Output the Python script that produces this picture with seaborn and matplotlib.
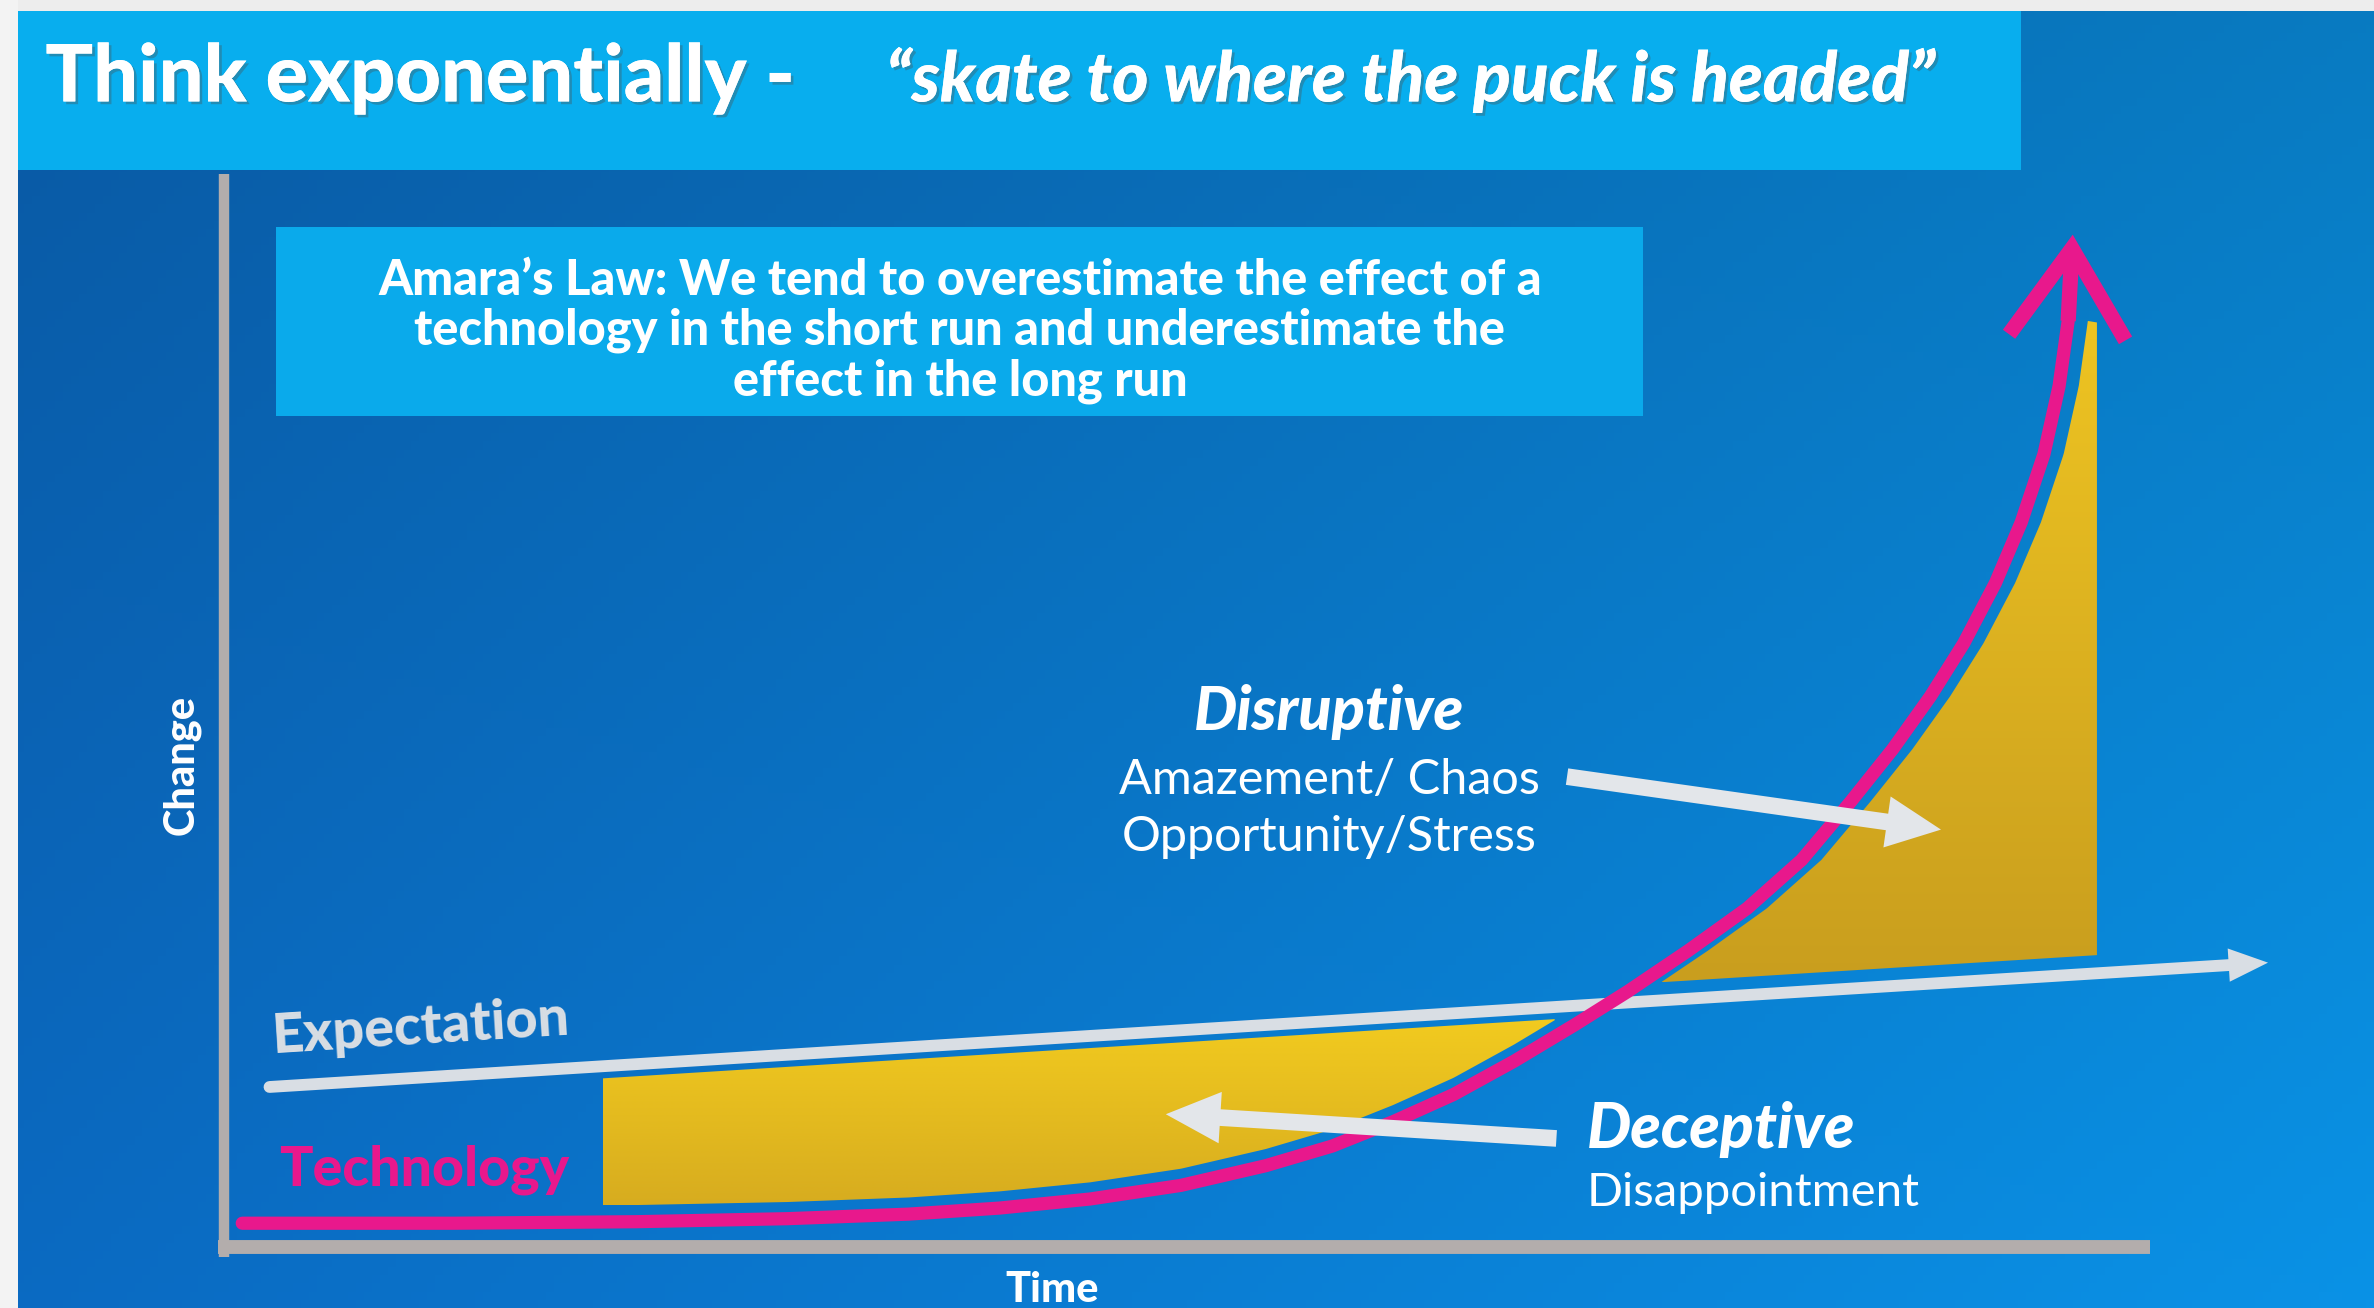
import numpy as np
import matplotlib.pyplot as plt
import seaborn as sns
from matplotlib.patches import Polygon, Rectangle, FancyArrow, FancyArrowPatch
import matplotlib.patheffects as pe

# slide laid out on a 1568 x 864 grid: x = time, y = change (origin bottom left)
W, H = 1568, 864

# technology curve (exponential)
tech_time = [160, 300, 420, 520, 600, 660, 720, 780, 836, 880, 920, 960,
             1000, 1040, 1075, 1115, 1154, 1190, 1222, 1250, 1275, 1297,
             1318, 1335, 1350, 1360, 1366]
tech_change = [56, 56, 57, 59, 62, 66, 72, 81, 94, 107, 123, 141,
               163, 187, 209, 236, 264, 296, 334, 369, 404, 439,
               479, 519, 564, 609, 652]
tech_tip = (1369, 709)

# expectation (linear)
exp_time = [178, 1480]
exp_change = [146, 227]

MAGENTA = "#E8188C"
GREY = "#D9DEE4"
AXIS_GREY = "#B3ADAC"
WHITE = "#FFFFFF"

sns.set_theme(style="white")
plt.rcParams["font.family"] = ["Lato", "DejaVu Sans"]

fig = plt.figure(figsize=(23.74, 13.08), dpi=100)
ax = fig.add_axes([0, 0, 1, 1])


def hexrgb(h):
    h = h.lstrip("#")
    return np.array([int(h[i:i + 2], 16) for i in (0, 2, 4)]) / 255.0


# background: blue, lighter to the right, a bit darker at the top
gx = np.linspace(0, 1, 300)[None, :, None]
gy = np.linspace(0, 1, 160)[:, None, None]
c_left, c_right = hexrgb("#0B6AC2"), hexrgb("#0A92E6")
bg = (1 - gx) * c_left + gx * c_right
bg = bg * (1 - 0.16 * gy)
ax.imshow(bg, extent=[0, W, 0, H], origin="lower", aspect="auto", zorder=0)

# page border strips and title band
ax.add_patch(Rectangle((0, H - 7), W, 7, color="#EDEDED", zorder=1, lw=0))
ax.add_patch(Rectangle((0, 0), 12, H, color="#F3F3F3", zorder=1, lw=0))
ax.add_patch(Rectangle((12, 752), 1323, 105, color="#08AEEE", zorder=1, lw=0))


def gradient_fill(verts, c_top, c_bot, z):
    poly = Polygon(verts, closed=True, fc="none", ec="none")
    ax.add_patch(poly)
    x0, x1 = verts[:, 0].min(), verts[:, 0].max()
    y0, y1 = verts[:, 1].min(), verts[:, 1].max()
    t = np.linspace(0, 1, 256)[:, None]
    rgb = (1 - t) * hexrgb(c_bot) + t * hexrgb(c_top)
    img = np.repeat(rgb[:, None, :], 2, axis=1)
    im = ax.imshow(img, extent=[x0, x1, y0, y1], origin="lower",
                   aspect="auto", zorder=z, interpolation="bilinear")
    im.set_clip_path(poly)


# deceptive gap: expectation above technology
xs = np.linspace(398, 1100, 500)
top = np.interp(xs, exp_time, exp_change) - 8
bot = np.interp(xs, tech_time, tech_change) + 11
keep = top > bot
xs, top, bot = xs[keep], top[keep], bot[keep]
verts1 = np.r_[np.c_[xs, top], np.c_[xs[::-1], bot[::-1]]]
gradient_fill(verts1, "#F2CB1F", "#D7AC1F", 2)

# disruptive gap: technology above expectation
shifted = np.array(tech_time) + 13
xs2 = np.linspace(1050, 1379, 500)
top2 = np.interp(xs2, shifted, tech_change)
bot2 = np.interp(xs2, exp_time, exp_change) + 12
keep = top2 > bot2
xs2, top2, bot2 = xs2[keep], top2[keep], bot2[keep]
right_bot = np.interp(1385, exp_time, exp_change) + 12
verts2 = np.r_[np.c_[xs2, bot2], [[1385, right_bot], [1385, 651]],
               np.c_[xs2[::-1], top2[::-1]]]
gradient_fill(verts2, "#EEC422", "#C99E1E", 2)

# axes of the sketch
ax.plot([148, 148], [34, 749], color=AXIS_GREY, lw=7.5, zorder=3,
        solid_capstyle="butt")
ax.plot([144, 1420], [40, 40], color=AXIS_GREY, lw=10, zorder=3,
        solid_capstyle="butt")

# expectation line with arrow
sns.lineplot(x=exp_time, y=exp_change, ax=ax, color=GREY, lw=8.5,
             sort=False, estimator=None, zorder=4)
slope = (exp_change[1] - exp_change[0]) / (exp_time[1] - exp_time[0])
ax.add_patch(FancyArrow(exp_time[1] - 8, exp_change[1] - 8 * slope, 26, 26 * slope,
                        width=0, head_width=22, head_length=26,
                        length_includes_head=True, color=GREY, lw=0, zorder=4))

# technology curve with open arrow head
sns.lineplot(x=tech_time, y=tech_change, ax=ax, color=MAGENTA, lw=9.5,
             sort=False, estimator=None, zorder=5)
ax.add_patch(FancyArrowPatch((tech_time[-1], tech_change[-1]), tech_tip,
                             arrowstyle="->,head_length=64,head_width=42",
                             mutation_scale=1, shrinkA=0, shrinkB=0,
                             color=MAGENTA, lw=11, joinstyle="miter",
                             capstyle="butt", zorder=5))

# pointer arrows
ax.add_patch(FancyArrow(1035, 351, 247, -35, width=11, head_width=34,
                        head_length=36, length_includes_head=True,
                        color="#E3E6EA", lw=0, zorder=6))
ax.add_patch(FancyArrow(1028, 112, -258, 16, width=11, head_width=34,
                        head_length=36, length_includes_head=True,
                        color="#E3E6EA", lw=0, zorder=6))

shadow = [pe.withSimplePatchShadow(offset=(2, -2), alpha=0.35), pe.Normal()]

# title
ax.text(30, 797, "Think exponentially - ", fontsize=57, fontweight="black",
        color=WHITE, va="baseline", ha="left", zorder=7, path_effects=shadow)
ax.text(585, 797, "\u201cskate to where the puck is headed\u201d", fontsize=50,
        fontweight="black", style="italic", color=WHITE, va="baseline",
        ha="left", zorder=7, path_effects=shadow)

# Amara's law box
ax.add_patch(Rectangle((182, 589), 903, 125, color="#0AAAEB", zorder=1, lw=0))
amara = ["Amara\u2019s Law: We tend to overestimate the effect of a",
         "technology in the short run and underestimate the",
         "effect in the long run"]
for line, yy in zip(amara, [679, 646, 612]):
    ax.text(634, yy, line, fontsize=35, fontweight="black", color=WHITE,
            ha="center", va="center", zorder=7)

# axis labels
ax.text(120, 359, "Change", fontsize=30, fontweight="black", color=WHITE,
        rotation=90, ha="center", va="center", zorder=7)
ax.text(695, 12, "Time", fontsize=30, fontweight="black", color=WHITE,
        ha="center", va="center", zorder=7)

# series labels
ax.text(278, 185, "Expectation", fontsize=40, fontweight="black", color=GREY,
        rotation=3.6, rotation_mode="anchor", ha="center", va="center", zorder=7)
ax.text(280, 91, "Technology", fontsize=40, fontweight="black", color=MAGENTA,
        ha="center", va="center", zorder=7)

# annotations
ax.text(878, 394, "Disruptive", fontsize=44, fontweight="black", style="italic",
        color=WHITE, ha="center", va="center", zorder=7)
ax.text(878, 349, "Amazement/ Chaos", fontsize=35, color=WHITE,
        ha="center", va="center", zorder=7)
ax.text(878, 311, "Opportunity/Stress", fontsize=35, color=WHITE,
        ha="center", va="center", zorder=7)
ax.text(1048, 118, "Deceptive", fontsize=45, fontweight="black", style="italic",
        color=WHITE, ha="left", va="center", zorder=7)
ax.text(1048, 76, "Disappointment", fontsize=34, color=WHITE,
        ha="left", va="center", zorder=7)

ax.set_xlim(0, W)
ax.set_ylim(0, H)
ax.axis("off")

fig.savefig("out.png", dpi=100)
